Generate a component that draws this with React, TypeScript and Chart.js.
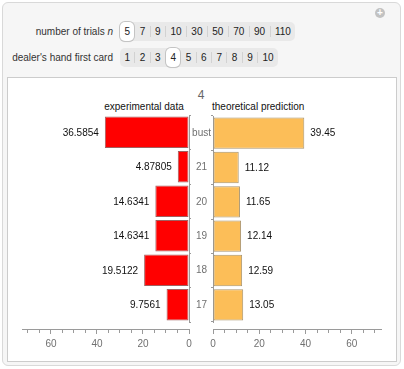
import React, { useEffect, useRef } from 'react';
import { Chart, registerables } from 'chart.js';

Chart.register(...registerables);

const categories = ['bust', '21', '20', '19', '18', '17'];
const experimental = [36.5854, 4.87805, 14.6341, 14.6341, 19.5122, 9.7561];
const theoretical = [39.45, 11.12, 11.65, 12.14, 12.59, 13.05];
const trialOptions = ['5', '7', '9', '10', '30', '50', '70', '90', '110'];
const cardOptions = ['1', '2', '3', '4', '5', '6', '7', '8', '9', '10'];
const selectedTrials = '5';
const selectedCard = '4';
const majorTickEvery = 20;
const minorTickStep = 5;
const axisMax = 72.6;

const FONT = "'Liberation Sans', Arial, Helvetica, sans-serif";

function makeLabelPlugin(left: boolean) {
  return {
    id: 'valueLabels',
    afterDatasetsDraw(chart: any) {
      const ctx = chart.ctx;
      const meta = chart.getDatasetMeta(0);
      const values = chart.data.datasets[0].data;
      ctx.save();
      ctx.font = `10px ${FONT}`;
      ctx.fillStyle = '#111';
      ctx.textBaseline = 'middle';
      ctx.textAlign = left ? 'right' : 'left';
      meta.data.forEach((bar: any, i: number) => {
        const { x, y } = bar.getProps(['x', 'y'], true);
        ctx.fillText(String(values[i]), left ? x - 6 : x + 6, y + 0.5);
      });
      ctx.restore();
    },
  };
}

function makeConfig(left: boolean): any {
  const values = left ? experimental : theoretical;
  return {
    type: 'bar',
    data: {
      labels: categories,
      datasets: [
        {
          data: values,
          xAxisID: 'x',
          yAxisID: 'y',
          backgroundColor: left ? '#ff0000' : '#fcbe58',
          borderColor: left ? '#a06060' : '#a8946e',
          borderWidth: 1,
          borderSkipped: false,
          categoryPercentage: 1,
          barPercentage: 0.913,
        },
      ],
    },
    options: {
      indexAxis: 'y',
      animation: false,
      responsive: false,
      maintainAspectRatio: false,
      layout: {
        padding: left
          ? { left: 14, top: 5, right: 0, bottom: 0 }
          : { left: 0, top: 5, right: 15, bottom: 0 },
      },
      plugins: {
        legend: { display: false },
        tooltip: { enabled: false },
        title: { display: false },
      },
      scales: {
        x: {
          type: 'linear',
          position: 'bottom',
          weight: 1,
          reverse: left,
          min: 0,
          max: axisMax,
          grid: {
            drawOnChartArea: false,
            tickLength: 5,
            color: '#9a9a9a',
            tickColor: '#9a9a9a',
            tickBorderDash: (ctx: any) =>
              ctx.tick && ctx.tick.value % majorTickEvery === 0 ? [] : [3, 10],
          },
          border: { display: true, color: '#9a9a9a' },
          ticks: {
            stepSize: minorTickStep,
            includeBounds: false,
            autoSkip: false,
            maxRotation: 0,
            padding: 4,
            color: '#707070',
            font: { family: FONT, size: 10 },
            callback: (v: any) => (v % majorTickEvery === 0 ? String(v) : ''),
          },
          afterFit: (s: any) => {
            s.height = 31;
          },
        },
        y: {
          type: 'category',
          position: left ? 'right' : 'left',
          offset: true,
          grid: {
            display: true,
            drawOnChartArea: false,
            drawTicks: true,
            tickLength: 2,
            offset: true,
            color: '#9a9a9a',
            tickColor: '#9a9a9a',
          },
          border: { display: true, color: '#9a9a9a' },
          ticks: {
            display: !left,
            crossAlign: 'center',
            padding: 0,
            color: '#707070',
            font: { family: FONT, size: 10 },
          },
          afterFit: (s: any) => {
            s.width = left ? 8 : 23;
          },
        },
        gap: {
          type: 'linear',
          axis: 'x',
          position: 'bottom',
          weight: 0,
          display: true,
          grid: { display: false },
          border: { display: false },
          ticks: { display: false },
          afterFit: (s: any) => {
            s.height = 7;
          },
        },
      },
    },
    plugins: [makeLabelPlugin(left)],
  };
}

function BarCanvas({ left, style }: { left: boolean; style: React.CSSProperties }) {
  const ref = useRef<HTMLCanvasElement>(null);
  useEffect(() => {
    if (!ref.current) return;
    const chart = new Chart(ref.current, makeConfig(left));
    return () => chart.destroy();
  }, [left]);
  return (
    <canvas
      ref={ref}
      width={style.width as number}
      height={style.height as number}
      style={{ position: 'absolute', ...style }}
    />
  );
}

function Setter({ options, selected, top }: { options: string[]; selected: string; top: number }) {
  const items: React.ReactNode[] = [];
  options.forEach((o, i) => {
    if (i > 0) {
      const prevSel = options[i - 1] === selected;
      const sel = o === selected;
      items.push(
        <div
          key={'s' + i}
          style={{
            width: 1,
            height: 11,
            background: prevSel || sel ? 'transparent' : '#d2d2d2',
          }}
        />
      );
    }
    const sel = o === selected;
    items.push(
      <div
        key={o}
        style={{
          padding: '0 4.4px',
          height: 19,
          lineHeight: '19px',
          fontSize: 10,
          color: '#222',
          background: sel ? '#ffffff' : 'transparent',
          borderRadius: 5,
          boxShadow: sel ? '0 0 0 1px #c4c4c4, 0 1px 1px rgba(0,0,0,0.15)' : 'none',
        }}
      >
        {o}
      </div>
    );
  });
  return (
    <div
      style={{
        position: 'absolute',
        left: 120,
        top,
        height: 19,
        display: 'flex',
        alignItems: 'center',
        background: '#e9e9e9',
        borderRadius: 5,
      }}
    >
      {items}
    </div>
  );
}

export default function App() {
  return (
    <div
      style={{
        position: 'absolute',
        left: 0,
        top: 0,
        width: 404,
        height: 369,
        fontFamily: FONT,
        background: '#ffffff',
      }}
    >
      <div
        style={{
          position: 'absolute',
          left: 2,
          top: 2,
          width: 397,
          height: 362,
          border: '1px solid #d9d9d9',
          borderRadius: 6,
          background: '#f6f6f6',
        }}
      />
      <div
        style={{
          position: 'absolute',
          left: 375,
          top: 8,
          width: 10,
          height: 10,
          borderRadius: 5,
          background: '#c2c2c2',
          color: '#fff',
          fontSize: 10,
          lineHeight: '10px',
          textAlign: 'center',
          fontWeight: 'bold',
        }}
      >
        +
      </div>
      <div
        style={{
          position: 'absolute',
          right: 291,
          top: 22,
          height: 19,
          lineHeight: '19px',
          fontSize: 10,
          color: '#333',
          whiteSpace: 'nowrap',
        }}
      >
        number of trials <i>n</i>
      </div>
      <Setter options={trialOptions} selected={selectedTrials} top={22} />
      <div
        style={{
          position: 'absolute',
          right: 291,
          top: 48,
          height: 19,
          lineHeight: '19px',
          fontSize: 10,
          color: '#333',
          whiteSpace: 'nowrap',
        }}
      >
        dealer's hand first card
      </div>
      <Setter options={cardOptions} selected={selectedCard} top={48} />
      <div
        style={{
          position: 'absolute',
          left: 7,
          top: 77,
          width: 388,
          height: 283,
          border: '1px solid #cccccc',
          background: '#ffffff',
        }}
      />
      <div
        style={{
          position: 'absolute',
          left: 181,
          width: 40,
          top: 88,
          height: 14,
          lineHeight: '14px',
          textAlign: 'center',
          fontSize: 12,
          color: '#666',
        }}
      >
        {selectedCard}
      </div>
      <div
        style={{
          position: 'absolute',
          left: 84,
          width: 120,
          top: 101,
          height: 12,
          lineHeight: '12px',
          textAlign: 'center',
          fontSize: 10,
          color: '#111',
          whiteSpace: 'nowrap',
        }}
      >
        experimental data
      </div>
      <div
        style={{
          position: 'absolute',
          left: 212,
          top: 101,
          height: 12,
          lineHeight: '12px',
          fontSize: 10,
          color: '#111',
          whiteSpace: 'nowrap',
        }}
      >
        theoretical prediction
      </div>
      <BarCanvas left={true} style={{ left: 8, top: 110, width: 189, height: 250 }} />
      <BarCanvas left={false} style={{ left: 190, top: 110, width: 206, height: 250 }} />
    </div>
  );
}
